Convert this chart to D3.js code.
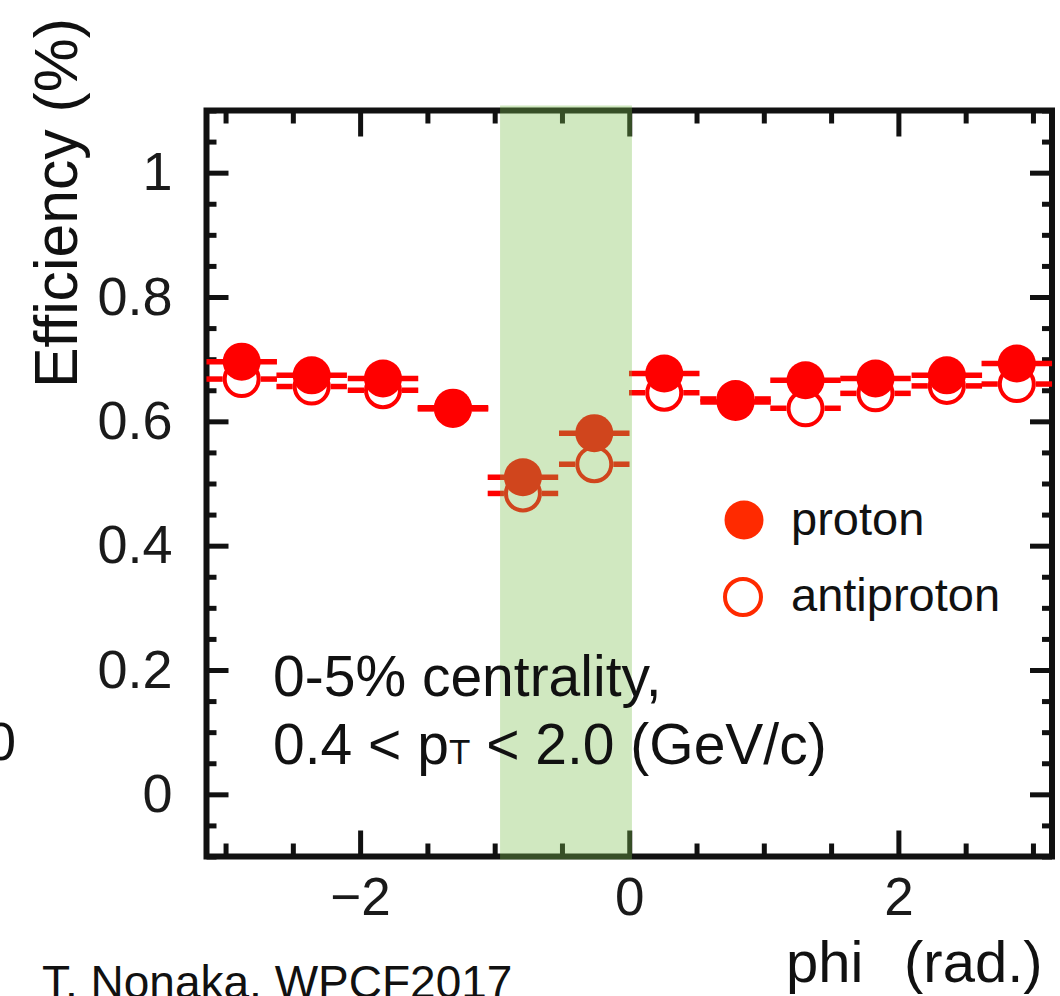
<!DOCTYPE html>
<html>
<head>
<meta charset="utf-8">
<script src="https://cdn.jsdelivr.net/npm/d3@7"></script>
<style>
html, body { margin: 0; padding: 0; background: #ffffff; }
svg { display: block; font-family: "Liberation Sans", Arial, Helvetica, sans-serif; }
</style>
</head>
<body>
<svg id="chart" width="1060" height="996"></svg>
<script>
// ---- data ----
const phiBins = [-2.88, -2.36, -1.83, -1.31, -0.79, -0.26, 0.26, 0.79, 1.31, 1.83, 2.36, 2.88];
const binHalfWidth = 0.262;
const protonEff = [0.696, 0.674, 0.669, 0.622, 0.510, 0.581, 0.677, 0.631, 0.666, 0.669, 0.674, 0.693];
const antiprotonEff = [0.668, 0.656, 0.650, 0.620, 0.484, 0.531, 0.646, 0.636, 0.621, 0.645, 0.657, 0.660];
const xMajorTicks = [-2, 0, 2];
const xTickLabels = ["\u22122", "0", "2"];
const yMajorTicks = [0, 0.2, 0.4, 0.6, 0.8, 1];
const yTickLabels = ["0", "0.2", "0.4", "0.6", "0.8", "1"];
const bandPhi = [-0.96, 0.02];
const legendLabels = ["proton", "antiproton"];

// ---- layout ----
const svg = d3.select("#chart");
const L = 206.5, R = 1052, T = 110.5, B = 856.5;
const x = d3.scaleLinear().domain([-Math.PI, Math.PI]).range([L, R]);
const y = d3.scaleLinear().domain([-0.1, 1.1]).range([B, T]);

const ink = "#111111";
const red = "#ff0000";
const legendRed = "#ff2a00";

const xMinor = d3.range(-3, 3.01, 0.5).filter(v => !xMajorTicks.includes(v));
const yMinor = y.ticks(24).filter(v => !yMajorTicks.some(m => Math.abs(m - v) < 1e-9));

function styleAxis(g, w) {
  g.select(".domain").remove();
  g.selectAll(".tick line").attr("stroke", ink).attr("stroke-width", w);
}

// bottom axis
const gB = svg.append("g").attr("transform", `translate(0,${B})`)
  .call(d3.axisBottom(x).tickValues(xMajorTicks).tickSize(-26).tickPadding(21)
    .tickFormat((d, i) => xTickLabels[i]));
styleAxis(gB, 5);
gB.selectAll("text").attr("font-size", 53).attr("fill", "#1a1a1a")
  .attr("font-family", "Liberation Sans, Arial, sans-serif");
const gBm = svg.append("g").attr("transform", `translate(0,${B})`)
  .call(d3.axisBottom(x).tickValues(xMinor).tickSize(-13).tickFormat(""));
styleAxis(gBm, 5);

// top axis
const gT = svg.append("g").attr("transform", `translate(0,${T})`)
  .call(d3.axisTop(x).tickValues(xMajorTicks).tickSize(-26).tickFormat(""));
styleAxis(gT, 5);
const gTm = svg.append("g").attr("transform", `translate(0,${T})`)
  .call(d3.axisTop(x).tickValues(xMinor).tickSize(-13).tickFormat(""));
styleAxis(gTm, 5);

// left axis
const gL = svg.append("g").attr("transform", `translate(${L},0)`)
  .call(d3.axisLeft(y).tickValues(yMajorTicks).tickSize(-22).tickPadding(34)
    .tickFormat((d, i) => yTickLabels[i]));
styleAxis(gL, 5);
gL.selectAll("text").attr("font-size", 54).attr("fill", "#1a1a1a")
  .attr("font-family", "Liberation Sans, Arial, sans-serif");
const gLm = svg.append("g").attr("transform", `translate(${L},0)`)
  .call(d3.axisLeft(y).tickValues(yMinor).tickSize(-10).tickFormat(""));
styleAxis(gLm, 5);

// right axis
const gR = svg.append("g").attr("transform", `translate(${R},0)`)
  .call(d3.axisRight(y).tickValues(yMajorTicks).tickSize(-22).tickFormat(""));
styleAxis(gR, 5);
const gRm = svg.append("g").attr("transform", `translate(${R},0)`)
  .call(d3.axisRight(y).tickValues(yMinor).tickSize(-10).tickFormat(""));
styleAxis(gRm, 5);

// frame
svg.append("rect").attr("x", L).attr("y", T).attr("width", R - L).attr("height", B - T)
  .attr("fill", "none").attr("stroke", ink).attr("stroke-width", 6);

// ---- data ----
const rMark = 19;
const gData = svg.append("g");

function drawBars(values, gap) {
  values.forEach((v, i) => {
    const cx = x(phiBins[i]), cy = y(v);
    const x0 = x(phiBins[i] - binHalfWidth), x1 = x(phiBins[i] + binHalfWidth);
    gData.append("line").attr("x1", x0).attr("x2", cx - gap).attr("y1", cy).attr("y2", cy)
      .attr("stroke", red).attr("stroke-width", 5.5);
    gData.append("line").attr("x1", cx + gap).attr("x2", x1).attr("y1", cy).attr("y2", cy)
      .attr("stroke", red).attr("stroke-width", 5.5);
  });
}

drawBars(antiprotonEff, rMark);
gData.selectAll("circle.anti").data(antiprotonEff).join("circle").attr("class", "anti")
  .attr("cx", (d, i) => x(phiBins[i])).attr("cy", d => y(d)).attr("r", rMark - 2)
  .attr("fill", "none").attr("stroke", red).attr("stroke-width", 4);

drawBars(protonEff, 0);
gData.selectAll("circle.prot").data(protonEff).join("circle").attr("class", "prot")
  .attr("cx", (d, i) => x(phiBins[i])).attr("cy", d => y(d)).attr("r", rMark)
  .attr("fill", red);

// ---- shaded band (drawn over everything, semi-transparent) ----
svg.append("rect")
  .attr("x", x(bandPhi[0])).attr("width", x(bandPhi[1]) - x(bandPhi[0]))
  .attr("y", T - 5).attr("height", B - T + 8)
  .attr("fill", "rgb(125,191,80)").attr("fill-opacity", 0.36);

// ---- legend ----
svg.append("circle").attr("cx", 744).attr("cy", 520).attr("r", 19.5).attr("fill", legendRed);
svg.append("circle").attr("cx", 743).attr("cy", 597).attr("r", 18).attr("fill", "none")
  .attr("stroke", legendRed).attr("stroke-width", 4);
svg.append("text").attr("x", 791).attr("y", 535).attr("font-size", 47).attr("fill", ink).text(legendLabels[0]);
svg.append("text").attr("x", 791).attr("y", 611).attr("font-size", 47).attr("fill", ink).text(legendLabels[1]);

// ---- annotation ----
svg.append("text").attr("x", 273).attr("y", 696).attr("font-size", 57).attr("fill", ink)
  .text("0-5% centrality,");
const t2 = svg.append("text").attr("x", 273).attr("y", 764).attr("font-size", 57).attr("fill", ink);
t2.append("tspan").text("0.4 < p");
t2.append("tspan").attr("font-size", 35).text("T");
t2.append("tspan").text(" < 2.0 (GeV/c)");

// ---- axis titles ----
svg.append("text").attr("transform", "translate(77,388) rotate(-90)")
  .attr("font-size", 62).attr("fill", ink).attr("textLength", 370).attr("lengthAdjust", "spacingAndGlyphs")
  .text("Efficiency (%)");
svg.append("text").attr("x", 786).attr("y", 982).attr("font-size", 58).attr("fill", ink).text("phi");
svg.append("text").attr("x", 904).attr("y", 982).attr("font-size", 58).attr("fill", ink).text("(rad.)");

// ---- credit ----
svg.append("text").attr("x", 42).attr("y", 998).attr("font-size", 46).attr("fill", ink)
  .text("T. Nonaka, WPCF2017");

// stray partial glyph at far left edge of the reference
svg.append("text").attr("x", -14).attr("y", 760).attr("font-size", 54).attr("fill", ink).text("0");
</script>
</body>
</html>
